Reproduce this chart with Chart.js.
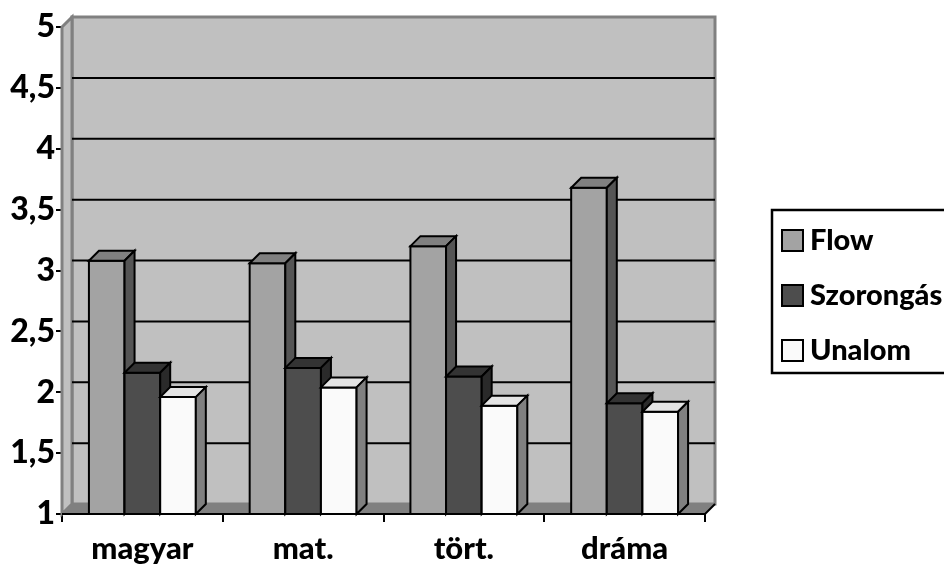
<!DOCTYPE html>
<html>
<head>
<meta charset="utf-8">
<script src="https://cdn.jsdelivr.net/npm/chart.js@4.4.0/dist/chart.umd.min.js"></script>
<style>
  html, body { margin: 0; padding: 0; background: #fff; }
  #wrap { width: 944px; height: 571px; }
</style>
</head>
<body>
<div id="wrap"><canvas id="chart"></canvas></div>
<script>
// data
const categories = ['magyar', 'mat.', 'tört.', 'dráma'];
const flow = [3.08, 3.06, 3.20, 3.68];
const szorongas = [2.16, 2.20, 2.13, 1.91];
const unalom = [1.96, 2.04, 1.89, 1.84];
const seriesNames = ['Flow', 'Szorongás', 'Unalom'];
const yTicks = [1, 1.5, 2, 2.5, 3, 3.5, 4, 4.5, 5];

// front / top / side colours of each series
const faces = [
  { front: '#a3a3a3', top: '#808080', side: '#555555' },
  { front: '#4d4d4d', top: '#333333', side: '#2a2a2a' },
  { front: '#fafafa', top: '#e4e4e4', side: '#808080' }
];

const DX = 10, DY = -10;
const FONT = 'Lato, "Noto Sans", sans-serif';

function poly(ctx, pts, fill, stroke, lw) {
  ctx.beginPath();
  ctx.moveTo(pts[0][0], pts[0][1]);
  for (let i = 1; i < pts.length; i++) ctx.lineTo(pts[i][0], pts[i][1]);
  ctx.closePath();
  if (fill) { ctx.fillStyle = fill; ctx.fill(); }
  if (stroke) { ctx.strokeStyle = stroke; ctx.lineWidth = lw || 2; ctx.stroke(); }
}

// walls, floor, back gridlines, 3d bar faces and the legend
const walls = {
  id: 'walls',
  beforeDatasetsDraw(chart) {
    const { ctx, chartArea: a, scales: { y } } = chart;
    ctx.save();
    // back wall
    poly(ctx, [[a.left + DX, a.top + DY], [a.right + DX, a.top + DY], [a.right + DX, a.bottom + DY], [a.left + DX, a.bottom + DY]], '#c0c0c0', '#808080', 3);
    // left side wall
    poly(ctx, [[a.left, a.top], [a.left + DX, a.top + DY], [a.left + DX, a.bottom + DY], [a.left, a.bottom]], '#c0c0c0', '#808080', 3);
    // floor
    poly(ctx, [[a.left, a.bottom], [a.left + DX, a.bottom + DY], [a.right + DX, a.bottom + DY], [a.right, a.bottom]], '#808080', null);
    ctx.strokeStyle = '#000';
    ctx.lineWidth = 2;
    ctx.beginPath();
    ctx.moveTo(a.right, a.bottom);
    ctx.lineTo(a.right + DX, a.bottom + DY);
    ctx.stroke();
    // gridlines on back wall
    yTicks.forEach(v => {
      if (v === yTicks[0] || v === yTicks[yTicks.length - 1]) return;
      const py = y.getPixelForValue(v) + DY;
      ctx.beginPath();
      ctx.moveTo(a.left + DX, py);
      ctx.lineTo(a.right + DX, py);
      ctx.stroke();
    });
    ctx.restore();
  },
  afterDatasetsDraw(chart) {
    const { ctx, chartArea: a } = chart;
    ctx.save();
    for (let c = 0; c < categories.length; c++) {
      chart.data.datasets.forEach((ds, d) => {
        const bar = chart.getDatasetMeta(d).data[c];
        const l = bar.x - bar.width / 2, r = bar.x + bar.width / 2;
        const t = bar.y, b = Math.min(bar.base, a.bottom);
        const f = faces[d];
        poly(ctx, [[l, t], [r, t], [r, b], [l, b]], f.front, '#000', 2);
        poly(ctx, [[l, t], [l + DX, t + DY], [r + DX, t + DY], [r, t]], f.top, '#000', 2);
        poly(ctx, [[r, t], [r + DX, t + DY], [r + DX, b + DY], [r, b]], f.side, '#000', 2);
      });
    }
    // redraw the front axis line over the bar bottoms
    ctx.strokeStyle = '#000';
    ctx.lineWidth = 2;
    ctx.beginPath();
    ctx.moveTo(a.left, a.bottom);
    ctx.lineTo(a.right, a.bottom);
    ctx.stroke();
    ctx.restore();
  },
  afterDraw(chart) {
    const { ctx } = chart;
    ctx.save();
    ctx.strokeStyle = '#000';
    ctx.lineWidth = 2.5;
    ctx.strokeRect(772, 210, 260, 163);
    ctx.font = '900 29px ' + FONT;
    ctx.textBaseline = 'middle';
    seriesNames.forEach((name, i) => {
      const cy = 240 + i * 55;
      ctx.fillStyle = faces[i].front;
      ctx.lineWidth = 2;
      ctx.fillRect(782, cy - 10, 21, 21);
      ctx.strokeRect(782, cy - 10, 21, 21);
      ctx.fillStyle = '#000';
      ctx.fillText(name, 810, cy + 1);
    });
    ctx.restore();
  }
};

new Chart(document.getElementById('chart'), {
  type: 'bar',
  data: {
    labels: categories,
    datasets: [
      { label: seriesNames[0], data: flow, backgroundColor: faces[0].front },
      { label: seriesNames[1], data: szorongas, backgroundColor: faces[1].front },
      { label: seriesNames[2], data: unalom, backgroundColor: faces[2].front }
    ]
  },
  options: {
    responsive: true,
    maintainAspectRatio: false,
    animation: false,
    layout: { padding: { top: 27, right: 239, bottom: 0, left: 0 } },
    datasets: { bar: { categoryPercentage: 0.665, barPercentage: 1, borderWidth: 0 } },
    plugins: { legend: { display: false }, tooltip: { enabled: false } },
    scales: {
      x: {
        grid: { drawOnChartArea: false, tickLength: 8, color: '#000', lineWidth: 2 },
        border: { color: '#000', width: 2 },
        ticks: { color: '#000', font: { family: FONT, size: 31, weight: '900' }, padding: 8 },
        afterFit: s => { s.height = 57; }
      },
      y: {
        min: yTicks[0],
        max: yTicks[yTicks.length - 1],
        afterBuildTicks: s => { s.ticks = yTicks.map(v => ({ value: v })); },
        grid: { drawOnChartArea: false, tickLength: 6, color: '#000', lineWidth: 2 },
        border: { color: '#000', width: 2 },
        ticks: {
          color: '#000',
          font: { family: FONT, size: 32, weight: '900' },
          padding: 1,
          callback: v => String(v).replace('.', ',')
        },
        afterFit: s => { s.width = 62; }
      }
    }
  },
  plugins: [walls]
});
</script>
</body>
</html>
